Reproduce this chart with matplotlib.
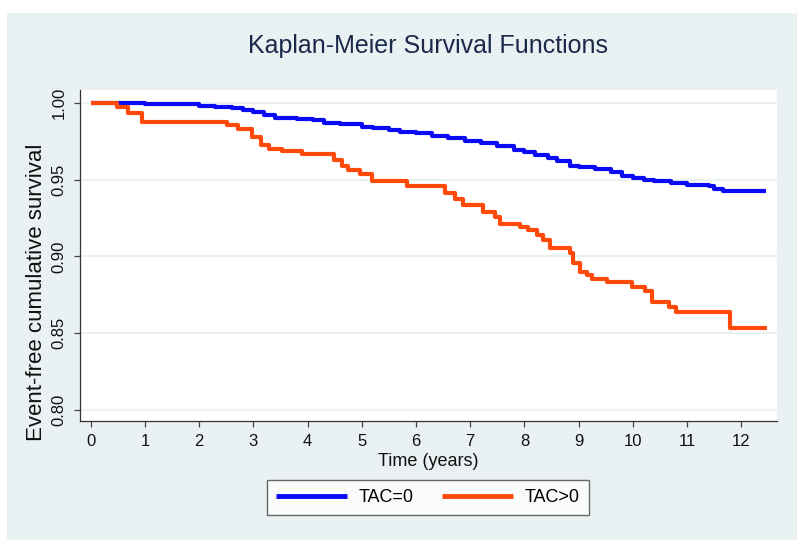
import matplotlib
matplotlib.use("Agg")
import matplotlib.pyplot as plt
from matplotlib.patches import Rectangle
from matplotlib import font_manager

# survival estimates (step functions)
t_tac0 = [0.0, 0.5, 1.0, 1.65, 2.0, 2.3, 2.6, 2.8, 3.0, 3.2, 3.4, 3.8, 4.1,
          4.3, 4.6, 5.0, 5.2, 5.5, 5.7, 6.0, 6.3, 6.6, 6.9, 7.2, 7.5, 7.8,
          8.0, 8.2, 8.44, 8.6, 8.84, 9.0, 9.3, 9.6, 9.8, 10.0, 10.2, 10.4,
          10.7, 11.0, 11.4, 11.5, 11.67, 12.45]
s_tac0 = [1.000, 0.9998, 0.9995, 0.999, 0.998, 0.997, 0.9964, 0.995, 0.994,
          0.992, 0.990, 0.9892, 0.9885, 0.987, 0.986, 0.9845, 0.9833, 0.982,
          0.981, 0.980, 0.9783, 0.977, 0.9753, 0.974, 0.9718, 0.969, 0.968,
          0.966, 0.9638, 0.962, 0.959, 0.958, 0.957, 0.955, 0.9525, 0.951,
          0.950, 0.949, 0.948, 0.9465, 0.946, 0.9436, 0.9425, 0.9425]

t_tacpos = [0.0, 0.49, 0.69, 0.94, 2.51, 2.72, 2.97, 3.15, 3.28, 3.52, 3.9,
            4.48, 4.63, 4.75, 4.97, 5.18, 5.83, 6.54, 6.72, 6.87, 7.24, 7.46,
            7.55, 7.92, 8.07, 8.23, 8.35, 8.47, 8.84, 8.89, 9.03, 9.15, 9.24,
            9.52, 9.98, 10.23, 10.35, 10.66, 10.80, 11.80, 12.47]
s_tacpos = [1.000, 0.9974, 0.9931, 0.9876, 0.9855, 0.9827, 0.978, 0.9725,
            0.970, 0.9686, 0.9666, 0.9627, 0.9588, 0.9562, 0.9536, 0.9492,
            0.9458, 0.941, 0.9371, 0.9334, 0.929, 0.9258, 0.921, 0.9193,
            0.9171, 0.9139, 0.9106, 0.9056, 0.9023, 0.8955, 0.890, 0.8878,
            0.8852, 0.8831, 0.8802, 0.8776, 0.8704, 0.8672, 0.8639, 0.8535,
            0.8535]

labels = ["TAC=0", "TAC>0"]
yticks = [0.80, 0.85, 0.90, 0.95, 1.00]
xticks = list(range(0, 13))

try:
    font_manager.findfont("Liberation Sans", fallback_to_default=False)
    plt.rcParams["font.family"] = ["Liberation Sans", "DejaVu Sans"]
except Exception:
    pass

W, H = 800, 547
fig = plt.figure(figsize=(W / 100, H / 100), dpi=100, facecolor="white")

panel = "#E9F1F3"
fig.patches.append(Rectangle((7 / W, 7 / H), 790 / W, 527 / H,
                             transform=fig.transFigure, facecolor=panel,
                             edgecolor="none", zorder=-10))

ax = fig.add_axes([79.5 / W, 1 - 421 / H, (777 - 79.5) / W, (421 - 90) / H])
ax.set_facecolor("white")

blue = "#0A0AF5"
orange = "#FF4A0A"
ax.plot(t_tac0, s_tac0, drawstyle="steps-post", color=blue, lw=3.0,
        label=labels[0], solid_capstyle="butt", zorder=3)
ax.plot(t_tacpos, s_tacpos, drawstyle="steps-post", color=orange, lw=3.0,
        label=labels[1], solid_capstyle="butt", zorder=3)

ax.set_xlim(-0.207, 12.66)
ax.set_ylim(0.7928, 1.0083)
ax.set_yticks(yticks)
ax.set_yticklabels(["%.2f" % v for v in yticks], rotation=90, va="center")
ax.set_xticks(xticks)
ax.set_xticklabels([str(v) for v in xticks])

for v in yticks:
    ax.axhline(v, color=panel, lw=1.6, zorder=1)

for s in ["top", "right"]:
    ax.spines[s].set_visible(False)
for s in ["left", "bottom"]:
    ax.spines[s].set_color("#333333")
    ax.spines[s].set_linewidth(0.9)
ax.tick_params(axis="both", direction="out", length=4.5, width=0.9,
               color="#444444", labelsize=12, labelcolor="#111111")
ax.tick_params(axis="x", pad=5)
ax.tick_params(axis="y", pad=5)

fig.text(428 / W, 1 - 46 / H, "Kaplan-Meier Survival Functions",
         ha="center", va="center", fontsize=18, color="#1C2A4A")
fig.text(428 / W, 1 - 462 / H, "Time (years)", ha="center", va="center",
         fontsize=13, color="#111111")
fig.text(37 / W, 1 - 292.5 / H, "Event-free cumulative survival",
         ha="center", va="center", rotation=90, fontsize=16, color="#111111")

leg = ax.legend(loc="center", bbox_to_anchor=(428 / W, 1 - 497.5 / H),
                bbox_transform=fig.transFigure, ncol=2, fontsize=13,
                frameon=True, fancybox=False, handlelength=3.9,
                handletextpad=0.65, columnspacing=1.6, borderpad=0.5)
leg.get_frame().set_edgecolor("#444444")
leg.get_frame().set_linewidth(1.0)
for line in leg.get_lines():
    line.set_linewidth(3.5)

fig.savefig("out.png", dpi=100, facecolor="white")
